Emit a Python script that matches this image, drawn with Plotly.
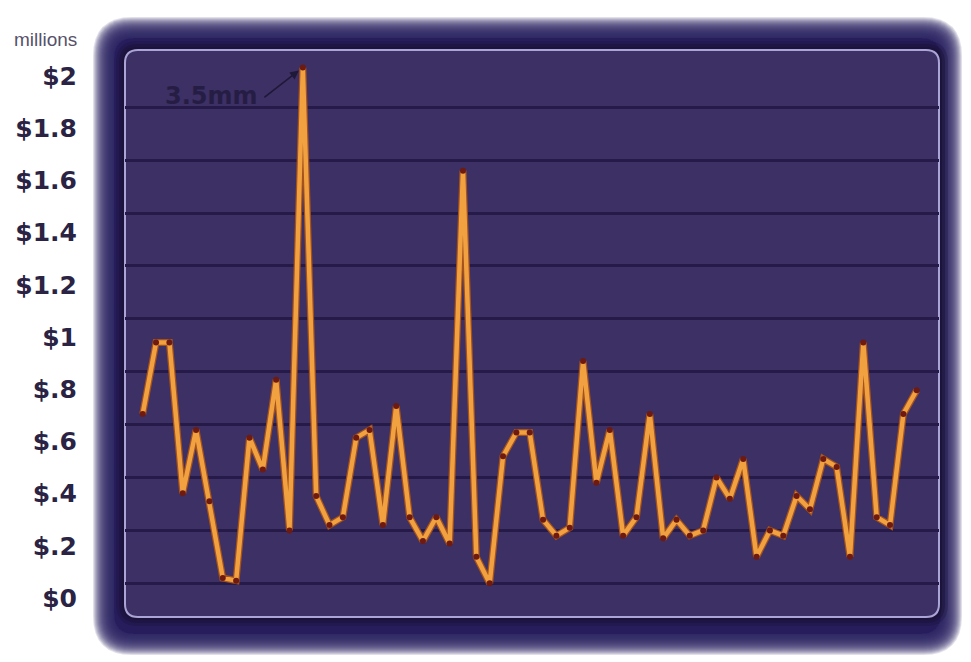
import plotly.graph_objects as go

# Monthly payouts, in millions of dollars (one point per month)
values = [0.64, 0.91, 0.91, 0.34, 0.58, 0.31, 0.02, 0.01, 0.55, 0.43,
          0.77, 0.20, 3.50, 0.33, 0.22, 0.25, 0.55, 0.58, 0.22, 0.67,
          0.25, 0.16, 0.25, 0.15, 1.56, 0.10, 0.00, 0.48, 0.57, 0.57,
          0.24, 0.18, 0.21, 0.84, 0.38, 0.58, 0.18, 0.25, 0.64, 0.17,
          0.24, 0.18, 0.20, 0.40, 0.32, 0.47, 0.10, 0.20, 0.18, 0.33,
          0.28, 0.47, 0.44, 0.10, 0.91, 0.25, 0.22, 0.64, 0.73]
months = list(range(len(values)))

grid_vals = [0, 0.2, 0.4, 0.6, 0.8, 1.0, 1.2, 1.4, 1.6, 1.8]
tick_vals = [0, 0.2, 0.4, 0.6, 0.8, 1.0, 1.2, 1.4, 1.6, 1.8, 2.0]
tick_text = ["$0", "$.2", "$.4", "$.6", "$.8", "$1", "$1.2", "$1.4", "$1.6", "$1.8", "$2"]

# values above the chart ceiling are drawn at the ceiling and called out
Y_CAP = 1.95
plotted = [min(v, Y_CAP) for v in values]
peak_i = max(months, key=lambda i: values[i])
peak_label = f"{values[peak_i]:g}mm"

# plot area in pixels (971 x 662 page)
W, H = 971, 662
PL, PR, PT, PB = 125, 939, 50, 617

def px(x):
    return (x - PL) / (PR - PL)

def py(y):
    return (PB - y) / (PB - PT)

def rrect(x0, y0, x1, y1, r):
    pts = [("M", [(x0 + r, y0)]), ("L", [(x1 - r, y0)]), ("Q", [(x1, y0), (x1, y0 + r)]),
           ("L", [(x1, y1 - r)]), ("Q", [(x1, y1), (x1 - r, y1)]),
           ("L", [(x0 + r, y1)]), ("Q", [(x0, y1), (x0, y1 - r)]),
           ("L", [(x0, y0 + r)]), ("Q", [(x0, y0), (x0 + r, y0)])]
    s = ""
    for cmd, ps in pts:
        s += cmd + " " + " ".join(f"{px(a):.5f},{py(b):.5f}" for a, b in ps) + " "
    return s + "Z"

shapes = []
# soft dark frame
fx0, fy0, fx1, fy1 = 106, 30, 949, 642
shapes.append(dict(type="path", path=rrect(fx0 + 8, fy0 + 8, fx1 - 8, fy1 - 8, 20),
                   xref="paper", yref="paper", fillcolor="#271c4f",
                   line=dict(width=0), layer="below"))
for e in range(-8, 14):
    shapes.append(dict(type="path", path=rrect(fx0 - e, fy0 - e, fx1 + e, fy1 + e, 26 + e),
                       xref="paper", yref="paper", fillcolor="#2c2060", opacity=0.14,
                       line=dict(width=0), layer="below"))
# shadow ring around the panel
for e, op in [(9, 0.3), (6, 0.45), (3, 0.65)]:
    shapes.append(dict(type="path", path=rrect(PL - e, PT - e, PR + e, PB + e, 13 + e),
                       xref="paper", yref="paper", fillcolor="#1a1236", opacity=op,
                       line=dict(width=0), layer="below"))
# panel
shapes.append(dict(type="path", path=rrect(PL, PT, PR, PB, 13),
                   xref="paper", yref="paper", fillcolor="#3c3064",
                   line=dict(width=0), layer="below"))
shapes.append(dict(type="path", path=rrect(PL, PT, PR, PB, 13),
                   xref="paper", yref="paper", fillcolor="rgba(0,0,0,0)",
                   line=dict(width=2, color="#aba4d6"), layer="between"))

fig = go.Figure()
# darker edge under the orange line
fig.add_trace(go.Scatter(x=months, y=plotted, mode="lines",
                         line=dict(color="#a4521e", width=7),
                         hoverinfo="skip", showlegend=False))
fig.add_trace(go.Scatter(x=months, y=plotted, mode="lines+markers",
                         line=dict(color="#f1a140", width=4.5),
                         marker=dict(color="#6f1a10", size=6),
                         showlegend=False))
# invisible trace so the label axis is rendered
fig.add_trace(go.Scatter(x=[months[0]], y=[0], yaxis="y2", mode="markers",
                         marker=dict(opacity=0), hoverinfo="skip", showlegend=False))

# data axis: 0 at y=583px, 2 at y=54px
unit = (583.3 - 54.3) / 2
y0 = -(PB - 583.3) / unit
y1 = y0 + (PB - PT) / unit
# label axis: $0 at y=598px, $2 at y=76px
unit2 = (598 - 76) / 2
z0 = -(PB - 598) / unit2
z1 = z0 + (PB - PT) / unit2
step = (916.7 - 142.7) / (len(values) - 1)
x0 = -(142.7 - PL) / step
x1 = (len(values) - 1) + (PR - 916.7) / step

fig.update_layout(
    width=W, height=H,
    margin=dict(l=PL, r=W - PR, t=PT, b=H - PB, autoexpand=False),
    paper_bgcolor="white",
    plot_bgcolor="rgba(0,0,0,0)",
    shapes=shapes,
    xaxis=dict(range=[x0, x1], visible=False, fixedrange=True),
    yaxis=dict(range=[y0, y1], tickvals=grid_vals, showticklabels=False,
               showgrid=True, gridcolor="#261b48", gridwidth=2.5,
               zeroline=False, showline=False, ticks="", fixedrange=True),
    yaxis2=dict(range=[z0, z1], overlaying="y", side="left", anchor="x",
                tickvals=tick_vals, ticktext=tick_text, showgrid=False,
                zeroline=False, showline=False, ticks="", ticklabelstandoff=47,
                tickfont=dict(family="DejaVu Sans", size=25, color="#2a2344",
                              weight="bold"),
                fixedrange=True),
    annotations=[
        dict(text="millions", xref="paper", yref="paper", x=px(79), y=py(40),
             xanchor="right", yanchor="middle", showarrow=False,
             font=dict(family="Liberation Sans", size=19, color="#57516a")),
        dict(text="", x=peak_i, y=plotted[peak_i], xref="x", yref="y",
             showarrow=True, ax=-40, ay=31, arrowhead=2, arrowsize=1.1,
             arrowwidth=1.6, arrowcolor="#1f1838", standoff=5),
        dict(text=peak_label, xref="paper", yref="paper", x=px(260), y=py(96),
             xanchor="right", yanchor="middle", showarrow=False,
             font=dict(family="DejaVu Sans", size=24, color="#261d45",
                       weight="bold")),
    ],
)

fig.write_html("out.html")
